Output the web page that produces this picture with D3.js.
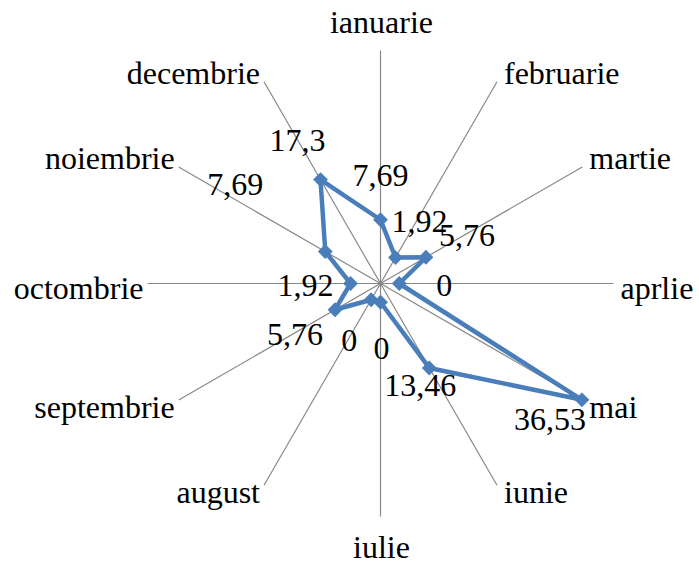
<!DOCTYPE html>
<html>
<head>
<meta charset="utf-8">
<script src="https://cdn.jsdelivr.net/npm/d3@7"></script>
<style>
  html, body { margin: 0; padding: 0; background: #fff; }
</style>
</head>
<body>
<svg id="chart" width="699" height="563" font-family="'Liberation Serif', 'Times New Roman', Times, serif" font-size="32"></svg>
<script>
// Monthly shares (%) on a radar chart
const months = ["ianuarie", "februarie", "martie", "aprlie", "mai", "iunie",
                "iulie", "august", "septembrie", "octombrie", "noiembrie", "decembrie"];
const values = [7.69, 1.92, 5.76, 0, 36.53, 13.46, 0, 0, 5.76, 1.92, 7.69, 17.3];
const valueLabels = ["7,69", "1,92", "5,76", "0", "36,53", "13,46", "0", "0", "5,76", "1,92", "7,69", "17,3"];

const svg = d3.select("#chart");
const cx = 380.5, cy = 283.5, R = 233;

const angle = d3.scaleBand().domain(months).range([0, 2 * Math.PI]).align(0).paddingInner(0).paddingOuter(0);
const ang = m => angle(m);
const r = d3.scaleLinear().domain([-3.2, 36.6]).range([0, R]);

const px = (a, rad) => cx + rad * Math.sin(a);
const py = (a, rad) => cy - rad * Math.cos(a);

// spokes
svg.append("g").selectAll("line").data(months).join("line")
  .attr("x1", cx).attr("y1", cy)
  .attr("x2", m => px(ang(m), R)).attr("y2", m => py(ang(m), R))
  .attr("stroke", "#888").attr("stroke-width", 1.2);

// category labels outside the spoke ends
svg.append("g").selectAll("text").data(months).join("text")
  .style("font-family", "'Liberation Serif', 'Times New Roman', Times, serif")
  .each(function (m) {
    const a = ang(m), s = Math.sin(a), c = Math.cos(a);
    const ex = px(a, R), ey = py(a, R);
    let x, y, anchor;
    if (Math.abs(s) < 0.1) {
      anchor = "middle"; x = ex + 1;
      y = c > 0 ? ey - 18 : ey + 41;
    } else {
      anchor = s > 0 ? "start" : "end";
      x = s > 0 ? ex + 7 : ex - 4;
      y = c > 0.1 ? ey + 2 : (c < -0.1 ? ey + 18 : ey + 15);
    }
    d3.select(this).attr("x", x).attr("y", y).attr("text-anchor", anchor);
  })
  .text(m => m);

// series polygon
const pts = months.map((m, i) => [px(ang(m), r(values[i])), py(ang(m), r(values[i]))]);
svg.append("path")
  .attr("d", d3.line().curve(d3.curveLinearClosed)(pts))
  .attr("fill", "none").attr("stroke", "#4A7EBB").attr("stroke-width", 4.5)
  .attr("stroke-linejoin", "round");

// diamond markers
svg.append("g").selectAll("path").data(pts).join("path")
  .attr("d", d3.symbol(d3.symbolSquare, 110)())
  .attr("transform", d => `translate(${d[0]},${d[1]}) rotate(45)`)
  .attr("fill", "#4A7EBB");

// data label placement around each marker (label centre x, baseline y)
const labelShift = [[0, -34], [24, -26], [41, -11], [45, 12], [-32, 30], [-9, 28],
                    [1, 57], [-22, 51], [-40, 35], [-45, 12], [-90, -57], [-23, -29]];
svg.append("g").selectAll("text").data(pts).join("text")
  .style("font-family", "'Liberation Serif', 'Times New Roman', Times, serif")
  .attr("x", (d, i) => d[0] + labelShift[i][0])
  .attr("y", (d, i) => d[1] + labelShift[i][1])
  .attr("text-anchor", "middle")
  .text((d, i) => valueLabels[i]);
</script>
</body>
</html>
